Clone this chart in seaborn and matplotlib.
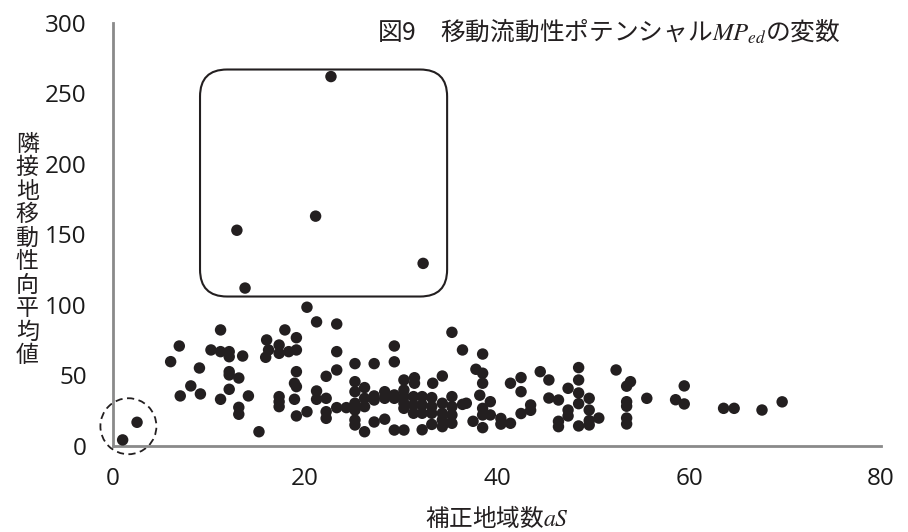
import numpy as np
import pandas as pd
import matplotlib
matplotlib.use("Agg")
import matplotlib.pyplot as plt
import seaborn as sns
from matplotlib.patches import FancyBboxPatch, Ellipse

# ---- data ----
aS = [1.0, 2.5,
      6.0, 6.9, 7.0, 8.1, 9.0, 9.1,
      10.2, 11.2, 11.2, 11.2, 12.1, 12.1, 12.1, 12.1, 12.1,
      13.1, 13.1, 13.1, 13.5, 14.1, 15.2,
      15.9, 16.0, 16.2, 17.3, 17.3, 17.3, 17.3, 17.3,
      17.9, 18.3, 18.9, 18.9, 19.1, 19.1, 19.1, 19.1, 19.1,
      20.2, 20.2, 21.2, 21.2, 21.2,
      22.2, 22.2, 22.2, 22.2,
      23.3, 23.3, 23.3, 23.3, 24.3,
      25.2, 25.2, 25.2, 25.2, 25.2, 25.2, 25.2,
      26.2, 26.2, 26.2, 26.2,
      27.2, 27.2, 27.2, 27.2,
      28.3, 28.3, 28.3,
      29.3, 29.3, 29.3, 29.3, 29.3,
      30.3, 30.3, 30.3, 30.3, 30.3, 30.3,
      31.4, 31.4, 31.3, 31.3, 31.3,
      32.2, 32.2, 32.2, 32.2,
      33.3, 33.2, 33.2, 33.2, 33.2,
      34.3, 34.3, 34.3, 34.3, 34.3,
      35.3, 35.3, 35.3, 35.3, 35.3,
      36.4, 36.4, 36.8,
      37.5, 37.8,
      38.2, 38.5, 38.5, 38.5, 38.5, 38.5, 38.5,
      39.3, 39.3,
      40.4, 40.4,
      41.4, 41.4,
      42.5, 42.5, 42.5,
      43.5, 43.5,
      44.5, 45.4, 45.4,
      46.4, 46.4, 46.4,
      47.4, 47.4, 47.4,
      48.5, 48.5, 48.5, 48.5, 48.5,
      49.6, 49.6, 49.6, 49.6,
      50.6,
      52.4, 53.9, 53.5, 53.5, 53.5, 53.5, 53.5,
      55.6, 58.6, 59.5, 59.5,
      63.6, 64.7, 67.6, 69.7,
      12.9, 13.75, 21.1, 22.7, 32.3]

mp_avg = [4.3, 16.8,
          59.8, 70.9, 35.5, 42.6, 55.3, 36.9,
          68.1, 82.3, 66.9, 33.1, 66.9, 63.3, 52.7, 50.4, 40.2,
          48.2, 27.4, 22.5, 63.8, 35.5, 10.1,
          62.9, 75.2, 68.1, 71.6, 65.7, 35.0, 31.4, 27.9,
          82.3, 66.9, 44.5, 33.1, 76.8, 68.1, 52.7, 42.1, 21.3,
          98.4, 24.3, 88.0, 39.0, 33.1,
          49.4, 33.8, 24.3, 19.6,
          86.5, 66.9, 53.9, 27.2, 27.2,
          58.4, 45.6, 38.5, 30.3, 25.5, 18.4, 14.9,
          41.4, 33.8, 27.9, 10.1,
          58.4, 35.5, 32.6, 17.0,
          38.5, 33.8, 19.0,
          70.9, 59.7, 36.2, 33.8, 11.3,
          46.8, 39.7, 35.0, 30.3, 26.7, 11.3,
          48.4, 44.5, 35.0, 29.1, 23.2,
          35.0, 29.1, 23.2, 11.5,
          44.5, 34.3, 27.9, 23.2, 15.3,
          49.6, 30.3, 23.2, 18.4, 13.7,
          80.6, 35.0, 27.9, 22.0, 16.1,
          68.1, 29.5, 30.3,
          17.5, 54.4,
          36.0, 65.2, 51.6, 44.5, 26.7, 22.0, 13.0,
          31.4, 22.0,
          19.5, 15.5,
          44.5, 16.1,
          48.5, 38.5, 23.0,
          29.1, 25.3,
          52.7, 46.8, 34.0,
          32.6, 17.5, 13.7,
          40.9, 25.5, 21.3,
          55.6, 46.8, 37.6, 30.0, 14.2,
          33.8, 25.5, 18.0, 14.9,
          19.8,
          53.9, 45.6, 42.4, 31.4, 28.2, 19.8, 15.6,
          33.8, 32.8, 42.6, 29.8,
          26.7, 26.7, 25.5, 31.3,
          153.0, 112.0, 163.0, 262.0, 129.5]

x_ticks = [0, 20, 40, 60, 80]
y_ticks = [0, 50, 100, 150, 200, 250, 300]

title_text = "図9\u3000移動流動性ポテンシャル$\\mathit{MP}_{ed}$の変数"
xlabel_text = "補正地域数$\\mathit{aS}$"
ylabel_text = "隣接地移動性向平均値"

# highlighted regions (annotation shapes, in data units)
box_x = [9.06, 34.8]
box_y = [106.0, 267.0]
circle_center = [1.6, 14.0]

df = pd.DataFrame({"aS": aS, "mp": mp_avg})

sns.set_style("white")
plt.rcParams["font.family"] = ["Noto Sans CJK JP", "DejaVu Sans"]
plt.rcParams["mathtext.fontset"] = "stix"

fig = plt.figure(figsize=(9.08, 5.32), dpi=100)
ax = fig.add_axes([0.1245, 0.1617, 0.8458, 0.7951])

sns.scatterplot(data=df, x="aS", y="mp", ax=ax, s=68, color="#231f20",
                edgecolor="none", linewidth=0, legend=False, zorder=3)

ax.set_xlim(0, 80)
ax.set_ylim(0, 300)
ax.set_xticks(x_ticks)
ax.set_yticks(y_ticks)
ax.set_xlabel("")
ax.set_ylabel("")

for side in ["top", "right"]:
    ax.spines[side].set_visible(False)
for side in ["left", "bottom"]:
    ax.spines[side].set_color("#8a8a8a")
    ax.spines[side].set_linewidth(2)

ax.tick_params(axis="both", direction="out", length=6, width=1.5,
               color="#8a8a8a", labelcolor="#1a1a1a", labelsize=17.5)
ax.tick_params(axis="y", pad=13)
ax.tick_params(axis="x", pad=9)
for lab in ax.get_xticklabels() + ax.get_yticklabels():
    lab.set_fontfamily(["Open Sans", "DejaVu Sans"])

# rounded rectangle around the outliers
px_per_x = 9.6
px_per_y = 1.41
rnd = 27 / px_per_x
box = FancyBboxPatch((box_x[0], box_y[0]), box_x[1] - box_x[0], box_y[1] - box_y[0],
                     boxstyle=f"round,pad=0,rounding_size={rnd}",
                     mutation_aspect=px_per_x / px_per_y,
                     fill=False, edgecolor="#231f20", linewidth=1.5, zorder=2)
ax.add_patch(box)

# dashed circle around the two low points
circ = Ellipse((circle_center[0], circle_center[1]), 56 / px_per_x, 56 / px_per_y,
               fill=False, edgecolor="#231f20", linewidth=1.3,
               linestyle=(0, (4, 2.5)), clip_on=False, zorder=2)
ax.add_patch(circ)

fig.text(0.67, 0.94, title_text, ha="center", va="center", fontsize=17.8,
         color="#231f20")
fig.text(0.547, 0.028, xlabel_text, ha="center", va="center", fontsize=17,
         color="#231f20")
fig.text(0.03, 0.53, "\n".join(ylabel_text), ha="center", va="center",
         fontsize=16.5, color="#231f20", linespacing=1.03)

fig.savefig("out.png", dpi=100)
